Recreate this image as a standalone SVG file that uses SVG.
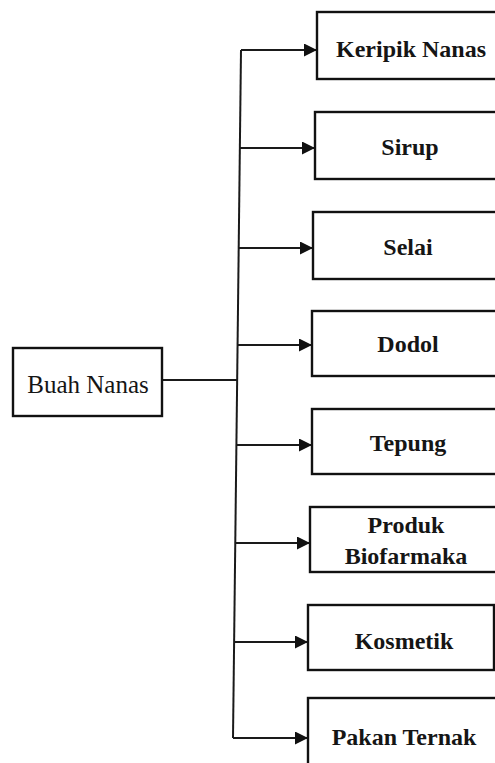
<svg xmlns="http://www.w3.org/2000/svg" width="495" height="763" viewBox="0 0 495 763">
<defs>
<style>
.box{fill:#fff;stroke:#111;stroke-width:2.4}
.t{font-family:"Liberation Serif","Times New Roman",serif;font-size:24px;font-weight:bold;fill:#151515;text-anchor:middle}
.t0{font-family:"Liberation Serif","Times New Roman",serif;font-size:25px;fill:#151515;text-anchor:middle}
.c{fill:none;stroke:#1a1a1a;stroke-width:2}
</style>
<marker id="ah" viewBox="0 0 10 10" refX="10" refY="5" markerWidth="13" markerHeight="13" markerUnits="userSpaceOnUse" orient="auto">
<path d="M0,0 L10,5 L0,10 z" fill="#111"/>
</marker>
</defs>
<rect width="495" height="763" fill="#fff"/>
<g id="connectors">
<path class="c" d="M162,380 L238,380"/>
<path class="c" d="M241,50 L233,738"/>
<path class="c" d="M241,50 L317,50" marker-end="url(#ah)"/>
<path class="c" d="M240,148 L315,148" marker-end="url(#ah)"/>
<path class="c" d="M239,248 L313,248" marker-end="url(#ah)"/>
<path class="c" d="M238,345 L312,345" marker-end="url(#ah)"/>
<path class="c" d="M237,445 L312,445" marker-end="url(#ah)"/>
<path class="c" d="M236,543 L310,543" marker-end="url(#ah)"/>
<path class="c" d="M235,642 L308,642" marker-end="url(#ah)"/>
<path class="c" d="M233,738 L308,738" marker-end="url(#ah)"/>
</g>
<g id="buah-nanas"><rect class="box" x="13" y="348" width="149" height="68"/><text class="t0" x="88" y="393">Buah Nanas</text></g>
<g id="keripik-nanas"><rect class="box" x="317" y="12" width="190" height="67"/><text class="t" x="411" y="57">Keripik Nanas</text></g>
<g id="sirup"><rect class="box" x="315" y="112" width="190" height="67"/><text class="t" x="410" y="155">Sirup</text></g>
<g id="selai"><rect class="box" x="313" y="212" width="190" height="67"/><text class="t" x="408" y="255">Selai</text></g>
<g id="dodol"><rect class="box" x="312" y="311" width="190" height="65"/><text class="t" x="408" y="352">Dodol</text></g>
<g id="tepung"><rect class="box" x="312" y="409" width="190" height="65"/><text class="t" x="408" y="451">Tepung</text></g>
<g id="produk-biofarmaka"><rect class="box" x="310" y="507" width="190" height="65"/><text class="t" x="406" y="533">Produk</text><text class="t" x="406" y="564">Biofarmaka</text></g>
<g id="kosmetik"><rect class="box" x="308" y="605" width="186" height="65"/><text class="t" x="404" y="649">Kosmetik</text></g>
<g id="pakan-ternak"><rect class="box" x="308" y="698" width="190" height="70"/><text class="t" x="404" y="745">Pakan Ternak</text></g>
</svg>
